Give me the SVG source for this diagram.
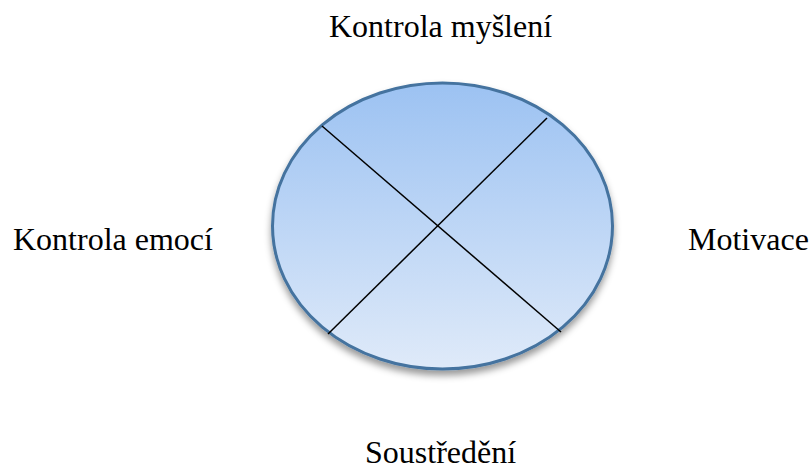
<svg xmlns="http://www.w3.org/2000/svg" width="811" height="468" viewBox="0 0 811 468">
  <style>
    .lbl { font-family: "Liberation Serif", "Times New Roman", serif; font-size: 32px; fill: #000; }
    .cross { stroke: #000; stroke-width: 1.5; fill: none; }
  </style>
  <defs>
    <linearGradient id="fillGrad" x1="0" y1="0" x2="0" y2="1">
      <stop offset="0" stop-color="#9cc2f2"/>
      <stop offset="1" stop-color="#dfeaf9"/>
    </linearGradient>
    <filter id="shadow" x="-10%" y="-10%" width="120%" height="130%">
      <feDropShadow dx="0" dy="5" stdDeviation="3.5" flood-color="#000" flood-opacity="0.4"/>
    </filter>
  </defs>
  <g id="circle">
    <ellipse cx="442.5" cy="226" rx="170" ry="143" fill="url(#fillGrad)" stroke="#44739f" stroke-width="3" filter="url(#shadow)"/>
  </g>
  <g id="connectors">
    <line class="cross" x1="322" y1="126" x2="561" y2="332"/>
    <line class="cross" x1="547" y1="118" x2="328" y2="334"/>
  </g>
  <g id="top-label"><text class="lbl" x="329" y="37">Kontrola myšlení</text></g>
  <g id="left-label"><text class="lbl" x="13" y="250">Kontrola emocí</text></g>
  <g id="right-label"><text class="lbl" x="688" y="250">Motivace</text></g>
  <g id="bottom-label"><text class="lbl" x="365" y="463">Soustředění</text></g>
</svg>
